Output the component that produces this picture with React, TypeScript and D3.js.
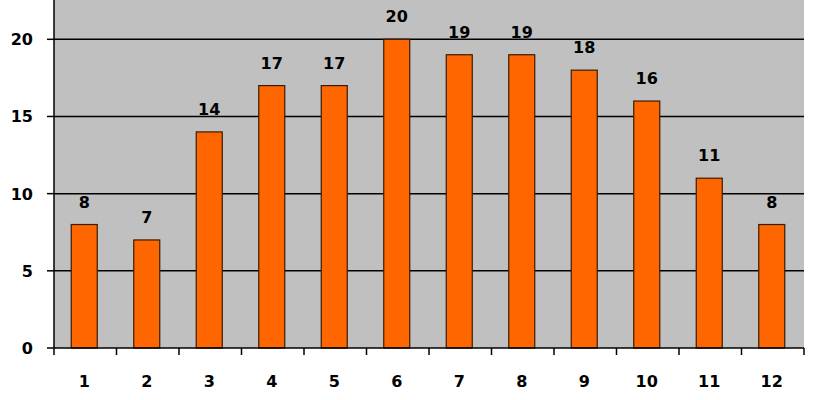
import React from "react";
import * as d3 from "d3";

const categories = ["1", "2", "3", "4", "5", "6", "7", "8", "9", "10", "11", "12"];
const values = [8, 7, 14, 17, 17, 20, 19, 19, 18, 16, 11, 8];
const yTicks = [0, 5, 10, 15, 20];

const W = 835;
const H = 400;
const left = 54;
const right = 804;
const bottom = 348;
const top = 0;
const font = "'DejaVu Sans', Verdana, sans-serif";

export default function App() {
  const x = d3.scaleBand<string>().domain(categories).range([left, right]).paddingInner(0).paddingOuter(0);
  const y = d3.scaleLinear().domain([0, 20]).range([bottom, 39.3]);
  const bw = 26;
  const boundaries = d3.range(categories.length + 1).map((i) => left + i * x.step());
  return (
    <svg width={W} height={H} style={{ position: "absolute", left: 0, top: 0 }}>
      <rect x={0} y={0} width={W} height={H} fill="#fff" />
      <rect x={left} y={top} width={right - left} height={bottom - top} fill="#C0C0C0" />
      {yTicks.filter((t) => t > 0).map((t) => (
        <line key={t} x1={left} x2={right} y1={y(t)} y2={y(t)} stroke="#000" strokeWidth={1.5} />
      ))}
      {values.map((v, i) => {
        const cx = x(categories[i])! + x.bandwidth() / 2 - 1;
        return (
          <g key={i}>
            <rect x={cx - bw / 2} y={y(v)} width={bw} height={bottom - y(v)} fill="#FF6600" stroke="#3a1a00" strokeWidth={1.2} />
            <text x={cx} y={y(v) - 17} textAnchor="middle" fontFamily={font} fontWeight="bold" fontSize={16} fill="#000">
              {v}
            </text>
          </g>
        );
      })}
      <line x1={left} x2={left} y1={top} y2={bottom} stroke="#000" strokeWidth={1.5} />
      <line x1={left} x2={right} y1={bottom} y2={bottom} stroke="#000" strokeWidth={1.5} />
      {yTicks.map((t) => (
        <g key={t}>
          <line x1={left - 7} x2={left} y1={y(t)} y2={y(t)} stroke="#000" strokeWidth={1.5} />
          <text x={33} y={y(t) + 6} textAnchor="end" fontFamily={font} fontWeight="bold" fontSize={16} fill="#000">
            {t}
          </text>
        </g>
      ))}
      {boundaries.map((bx, i) => (
        <line key={i} x1={bx} x2={bx} y1={bottom} y2={bottom + 7} stroke="#000" strokeWidth={1.5} />
      ))}
      {categories.map((c) => (
        <text key={c} x={x(c)! + x.bandwidth() / 2 - 1} y={387} textAnchor="middle" fontFamily={font} fontWeight="bold" fontSize={16} fill="#000">
          {c}
        </text>
      ))}
    </svg>
  );
}
